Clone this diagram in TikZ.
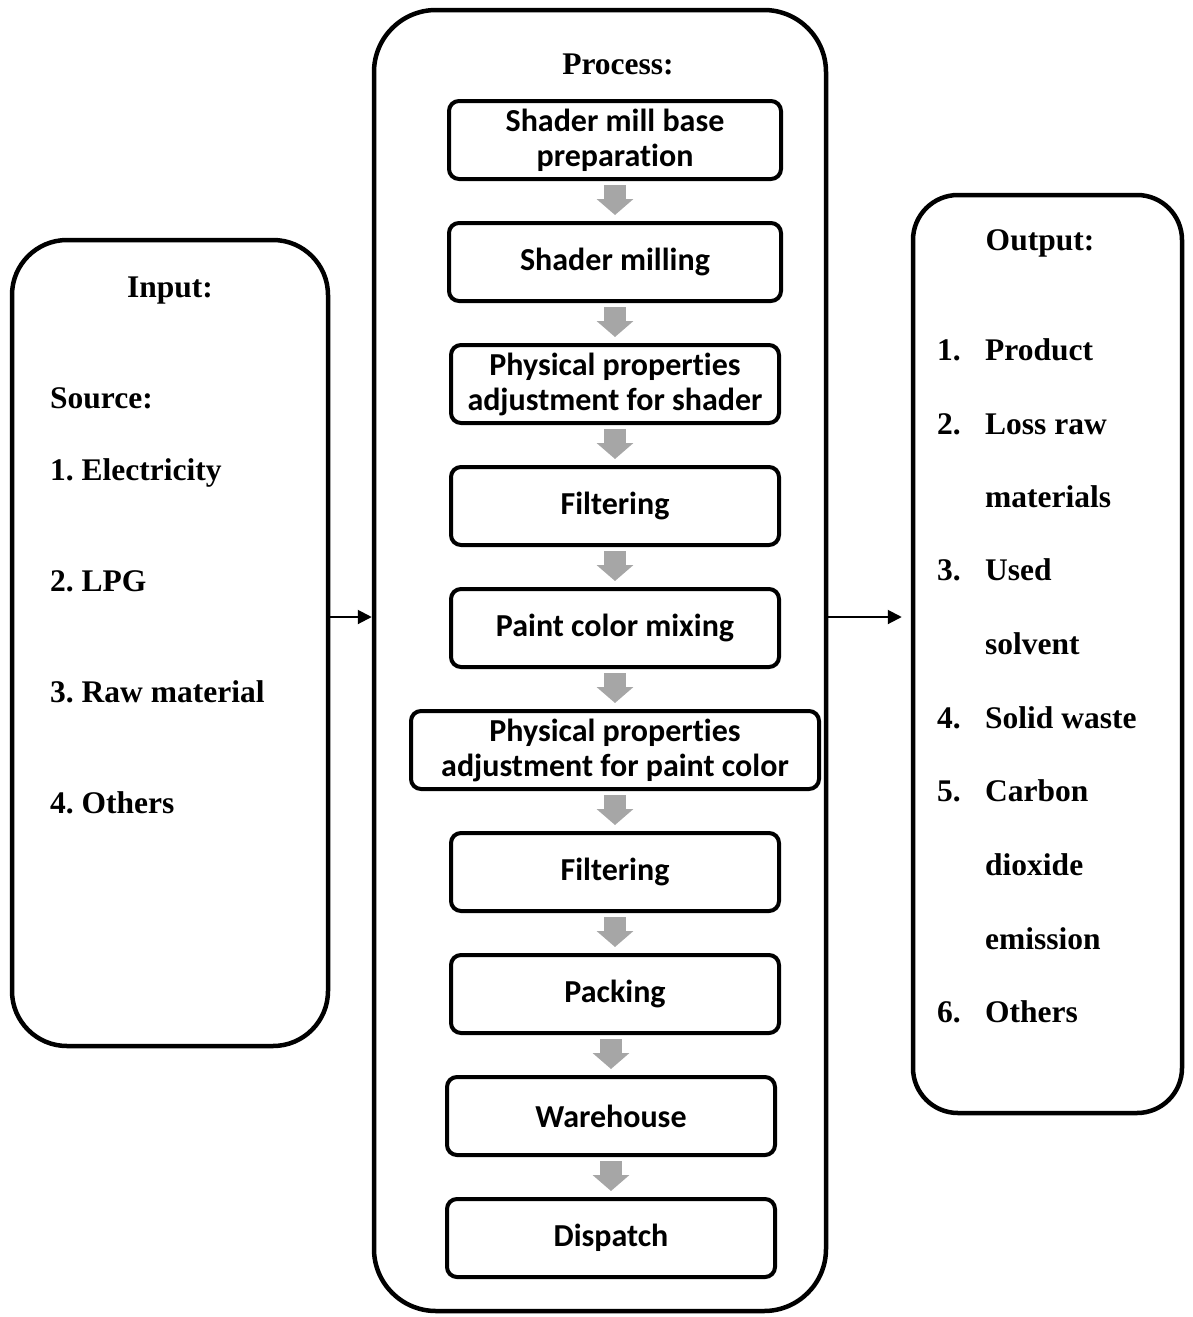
\documentclass[tikz,border=0pt]{standalone}
\usepackage{fontspec}
\setmainfont{Liberation Serif}
\newfontfamily\stepfont[Ligatures=NoCommon]{Carlito}
\usepackage{tikz}
\usetikzlibrary{arrows.meta, positioning}
\definecolor{arrowgrey}{HTML}{A6A6A6}
\frenchspacing

\begin{document}
\begin{tikzpicture}[
    x=1pt, y=-1pt,
    node distance=40pt,
    frame/.style={rectangle, draw, line width=4.5pt, rounded corners=55pt},
    stepbox/.style={rectangle, draw, line width=4pt, rounded corners=10pt, minimum width=328pt, minimum height=78pt, align=center, inner sep=2pt, font=\stepfont\bfseries\fontsize{32}{35}\selectfont},
    label/.style={font=\bfseries\fontsize{31.5}{36}\selectfont, inner sep=0pt},
    steparrow/.style={line width=22pt, arrowgrey, -{Triangle[length=16pt, width=36pt]}, shorten <=4pt, shorten >=6pt},
    flowarrow/.style={line width=2pt, -{Triangle[length=14pt, width=14pt]}},
]
\useasboundingbox (0,0) rectangle (1192,1317);

% Frames
\node[frame, minimum width=316pt, minimum height=806pt] (input) at (170,643) {};
\node[frame, minimum width=452pt, minimum height=1301pt, rounded corners=62pt] (proc) at (600,660.5) {};
\node[frame, minimum width=269pt, minimum height=918pt, rounded corners=45pt] (output) at (1047.5,654) {};

% Input
\node[label, anchor=base] (intitle) at (170,297) {Input:};
\node[label, anchor=base west] (src) at (50,408) {Source:};
\node[label, anchor=base west] (in1) at (50,480) {1. Electricity};
\node[label, anchor=base west] (in2) at (50,591) {2. LPG};
\node[label, anchor=base west] (in3) at (50,702) {3. Raw material};
\node[label, anchor=base west] (in4) at (50,813) {4. Others};

% Process steps
\node[label, anchor=base] (ptitle) at (618,74) {Process:};
\node[stepbox, minimum width=332pt] (s1) at (615,140) {Shader mill base\\preparation};
\node[stepbox, minimum width=332pt, below=of s1] (s2) {Shader milling};
\node[stepbox, below=of s2] (s3) {Physical properties\\adjustment for shader};
\node[stepbox, below=of s3] (s4) {Filtering};
\node[stepbox, below=of s4] (s5) {Paint color mixing};
\node[stepbox, minimum width=408pt, below=of s5] (s6) {Physical properties\\adjustment for paint color};
\node[stepbox, below=of s6] (s7) {Filtering};
\node[stepbox, below=of s7] (s8) {Packing};
\node[stepbox, below=of s8, xshift=-4pt] (s9) {Warehouse};
\node[stepbox, below=of s9] (s10) {Dispatch};

% Grey arrows between steps
\draw[steparrow] (s1) -- (s2);
\draw[steparrow] (s2) -- (s3);
\draw[steparrow] (s3) -- (s4);
\draw[steparrow] (s4) -- (s5);
\draw[steparrow] (s5) -- (s6);
\draw[steparrow] (s6) -- (s7);
\draw[steparrow] (s7) -- (s8);
\draw[steparrow] (s8.south -| s9) -- (s9);
\draw[steparrow] (s9) -- (s10);

% Output
\node[label, anchor=base] (outtitle) at (1040,250) {Output:};
\node[label, anchor=base west] (o1n) at (937,360) {1.};
\node[label, anchor=base west] (o1) at (985,360) {Product};
\node[label, anchor=base west] (o2n) at (937,434) {2.};
\node[label, anchor=base west] (o2) at (985,434) {Loss raw};
\node[label, anchor=base west] (o2b) at (985,507) {materials};
\node[label, anchor=base west] (o3n) at (937,580) {3.};
\node[label, anchor=base west] (o3) at (985,580) {Used};
\node[label, anchor=base west] (o3b) at (985,654) {solvent};
\node[label, anchor=base west] (o4n) at (937,728) {4.};
\node[label, anchor=base west] (o4) at (985,728) {Solid waste};
\node[label, anchor=base west] (o5n) at (937,801) {5.};
\node[label, anchor=base west] (o5) at (985,801) {Carbon};
\node[label, anchor=base west] (o5b) at (985,875) {dioxide};
\node[label, anchor=base west] (o5c) at (985,949) {emission};
\node[label, anchor=base west] (o6n) at (937,1022) {6.};
\node[label, anchor=base west] (o6) at (985,1022) {Others};

% Flow arrows
\coordinate (flowlevel) at (0,617);
\draw[flowarrow] (input.east |- flowlevel) -- (proc.west |- flowlevel);
\draw[flowarrow, shorten >=9pt] (proc.east |- flowlevel) -- (output.west |- flowlevel);

\end{tikzpicture}
\end{document}
